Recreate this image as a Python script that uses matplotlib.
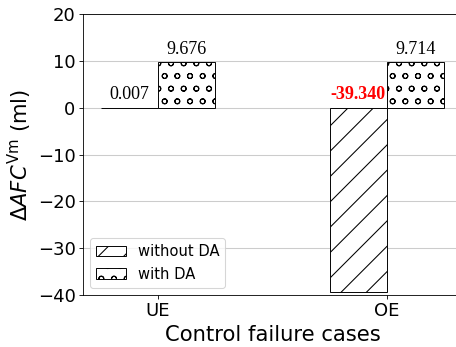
import numpy as np
from matplotlib import pyplot as plt

cases = ['UE', 'OE']
without_da = [0.007, -39.340]
with_da = [9.676, 9.714]
series_names = ['without DA', 'with DA']
y_ticks = [-40, -30, -20, -10, 0, 10, 20]


def label_bars(ax, xs, values):
    """ Put the value above each bar (negative ones in red at zero). """
    for x, v in zip(xs, values):
        if v < 0:
            ax.annotate(f'{v:.3f}', (x, 0), xytext=(0, 4), textcoords='offset points',
                        ha='center', va='bottom', family='Liberation Serif',
                        fontsize=17, color='red', fontweight='bold')
        else:
            ax.annotate(f'{v:.3f}', (x, v), xytext=(0, 4), textcoords='offset points',
                        ha='center', va='bottom', family='Liberation Serif',
                        fontsize=17, color='black')


def main():
    fig = plt.figure(figsize=(456 / 76, 347 / 76), dpi=76)
    ax = fig.add_axes([83 / 456, 52 / 347, 379 / 456, 281 / 347])

    x = np.arange(len(cases))
    w = 0.25
    ax.bar(x - w / 2, without_da, w, facecolor='white', edgecolor='black',
           linewidth=0.9, hatch='/', label=series_names[0])
    ax.bar(x + w / 2, with_da, w, facecolor='white', edgecolor='black',
           linewidth=0.9, hatch='o', label=series_names[1])

    label_bars(ax, x - w / 2, without_da)
    label_bars(ax, x + w / 2, with_da)

    ax.set_xlim(-0.327, 1.327)
    ax.set_ylim(-40, 20)
    ax.set_xticks(x, cases)
    ax.set_yticks(y_ticks)
    ax.tick_params(labelsize=17)
    ax.set_axisbelow(True)
    ax.yaxis.grid(True, color='#cccccc', linewidth=1)

    ax.set_xlabel('Control failure cases', fontsize=20)
    ax.set_ylabel(r'$\Delta AFC^{\mathrm{Vm}}$ (ml)', fontsize=20)
    ax.legend(loc='lower left', fontsize=14)

    fig.savefig('out.png', dpi=76)


if __name__ == '__main__':
    main()
